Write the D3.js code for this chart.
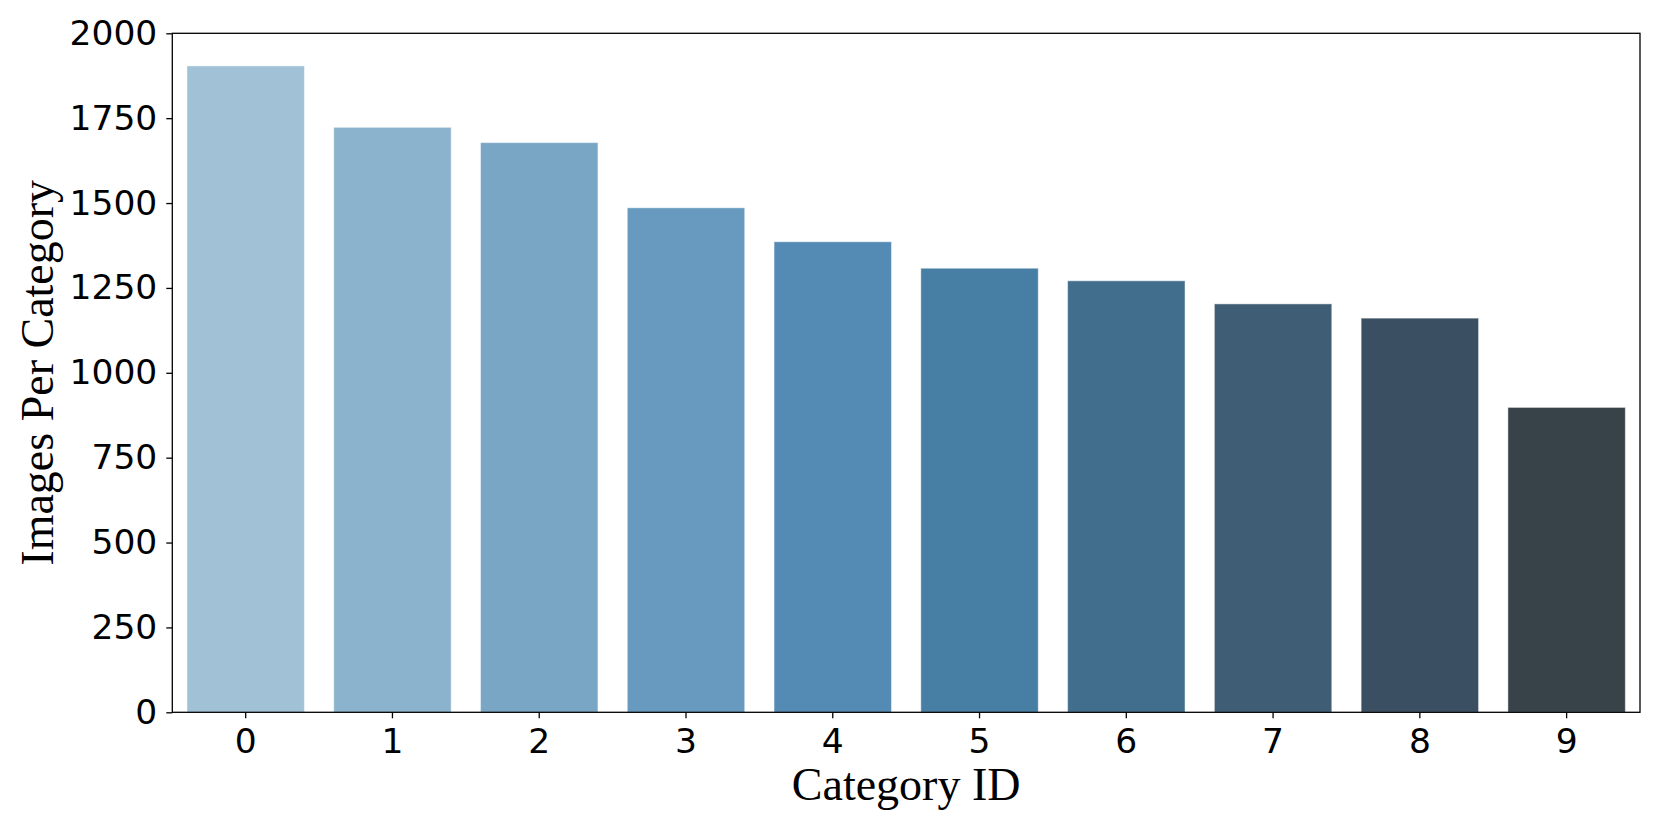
<!DOCTYPE html>
<html>
<head>
<meta charset="utf-8">
<script src="https://cdn.jsdelivr.net/npm/d3@7"></script>
<style>
  body { margin: 0; background: #fff; }
  svg { display: block; }
</style>
</head>
<body>
<div id="chart"></div>
<script>
'use strict';

// data
const categories = ["0", "1", "2", "3", "4", "5", "6", "7", "8", "9"];
const counts = [1904, 1723, 1678, 1486, 1386, 1308, 1271, 1203, 1161, 898];
const barColors = ["#a1c1d6", "#8cb3cd", "#7aa6c5", "#679abe", "#548bb4", "#467ea4",
                   "#426e8d", "#3f5e76", "#3b4f62", "#384349"];
const yTicks = [0, 250, 500, 750, 1000, 1250, 1500, 1750, 2000];

const width = 1661, height = 830;
const margin = {top: 33.3, right: 21, bottom: 117.7, left: 172.3};

const svg = d3.select("#chart").append("svg")
  .attr("width", width)
  .attr("height", height);

const x = d3.scaleBand()
  .domain(categories)
  .range([margin.left, width - margin.right])
  .paddingInner(0.2)
  .paddingOuter(0.1);

const y = d3.scaleLinear()
  .domain([0, 2000])
  .range([height - margin.bottom, margin.top]);

//bars
svg.append("g").selectAll("rect")
  .data(counts)
  .join("rect")
  .attr("x", (d, i) => x(categories[i]))
  .attr("y", d => y(d))
  .attr("width", x.bandwidth())
  .attr("height", d => y(0) - y(d))
  .attr("fill", (d, i) => barColors[i])
  .attr("stroke", "rgba(255,255,255,0.45)")
  .attr("stroke-width", 1);

//axes
const tickFont = "'DejaVu Sans', sans-serif";

const xAxis = svg.append("g")
  .attr("transform", `translate(0,${y(0)})`)
  .call(d3.axisBottom(x).tickSize(6).tickPadding(10).tickSizeOuter(0));

const yAxis = svg.append("g")
  .attr("transform", `translate(${margin.left},0)`)
  .call(d3.axisLeft(y).tickValues(yTicks).tickFormat(d3.format("d"))
    .tickSize(6).tickPadding(9).tickSizeOuter(0));

[xAxis, yAxis].forEach(ax => {
  ax.select(".domain").remove();
  ax.selectAll(".tick line").attr("stroke", "#000").attr("stroke-width", 1.3);
  ax.selectAll(".tick text")
    .attr("fill", "#000")
    .style("font-family", tickFont)
    .style("font-size", "34.5px");
});

//frame round the plot area
svg.append("rect")
  .attr("x", margin.left)
  .attr("y", margin.top)
  .attr("width", width - margin.left - margin.right)
  .attr("height", y(0) - margin.top)
  .attr("fill", "none")
  .attr("stroke", "#000")
  .attr("stroke-width", 1.3);

//axis labels
const labelFont = "'Liberation Serif', 'Times New Roman', serif";

svg.append("text")
  .attr("x", (margin.left + width - margin.right) / 2)
  .attr("y", 800)
  .attr("text-anchor", "middle")
  .style("font-family", labelFont)
  .style("font-size", "46px")
  .text("Category ID");

svg.append("text")
  .attr("transform", `translate(53,${(margin.top + y(0)) / 2}) rotate(-90)`)
  .attr("text-anchor", "middle")
  .style("font-family", labelFont)
  .style("font-size", "46px")
  .text("Images Per Category");
</script>
</body>
</html>
